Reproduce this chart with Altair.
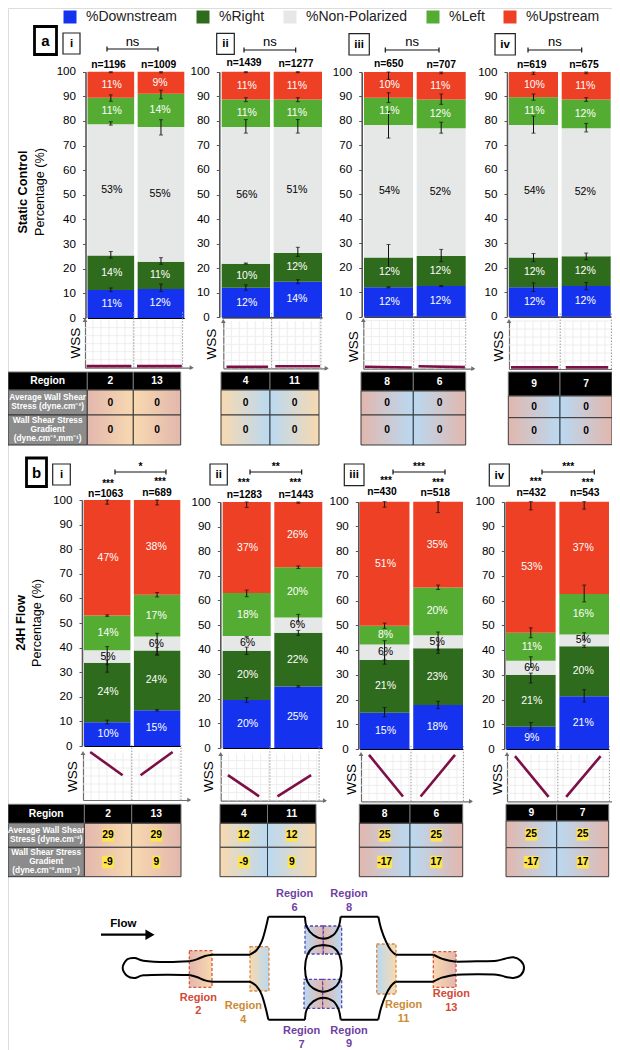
import altair as alt
import pandas as pd

# ---------- values ----------
SERIES = ["%Downstream", "%Right", "%Non-Polarized", "%Left", "%Upstream"]
COLORS = ["#1533ef", "#2f6b1c", "#e6e7e7", "#54ad32", "#ee4024"]
REGIONS = [["2", "13"], ["4", "11"], ["8", "6"], ["9", "7"]]
NUMERALS = ["i", "ii", "iii", "iv"]

A_N = [[1196, 1009], [1439, 1277], [650, 707], [619, 675]]
B_N = [[1063, 689], [1283, 1443], [430, 518], [432, 543]]

# upper edge of the first four segments of each bar (the fifth ends at 100)
A_TOPS = [[[11.4, 25.4, 78.7, 89.4], [11.8, 22.8, 77.5, 91.0]],
          [[12.0, 21.8, 77.5, 88.7], [14.5, 26.2, 77.5, 88.7]],
          [[12.0, 24.2, 78.3, 89.5], [12.5, 24.8, 77.0, 88.8]],
          [[12.0, 24.2, 78.3, 89.7], [12.5, 24.7, 77.0, 88.8]]]
B_TOPS = [[[9.7, 33.8, 38.9, 53.0], [14.5, 38.8, 44.5, 61.5]],
          [[19.5, 39.5, 45.5, 63.0], [25.0, 46.8, 53.0, 73.5]],
          [[14.7, 36.0, 42.3, 49.8], [17.8, 40.7, 46.0, 65.3]],
          [[9.0, 30.0, 35.7, 47.0], [21.3, 41.5, 46.3, 62.7]]]
A_PCT = [[[11, 14, 53, 11, 11], [12, 11, 55, 14, 9]],
         [[12, 10, 56, 11, 11], [14, 12, 51, 11, 11]],
         [[12, 12, 54, 11, 10], [12, 12, 52, 12, 11]],
         [[12, 12, 54, 11, 10], [12, 12, 52, 12, 11]]]
B_PCT = [[[10, 24, 5, 14, 47], [15, 24, 6, 17, 38]],
         [[20, 20, 6, 18, 37], [25, 22, 6, 20, 26]],
         [[15, 21, 6, 8, 51], [18, 23, 5, 20, 35]],
         [[9, 21, 6, 11, 53], [21, 20, 5, 16, 37]]]
# error bars (low, high) at the five segment edges
A_ERR = [[[(10.7, 12.2), (24.3, 27.0), (78.3, 79.7), (88.0, 90.6), (99.6, 100)],
          [(10.8, 13.8), (21.8, 24.5), (74.3, 80.5), (89.0, 92.5), (99.5, 100)]],
         [[(11.0, 13.2), (21.7, 22.1), (75.0, 80.5), (87.8, 89.4), (99.6, 100)],
          [(13.7, 15.3), (24.8, 28.5), (75.0, 80.5), (87.8, 89.4), (99.6, 100)]],
         [[(11.8, 12.2), (18.0, 29.5), (73.0, 83.8), (87.5, 91.5), (97.0, 100)],
          [(12.3, 12.7), (22.5, 27.5), (75.0, 79.5), (86.8, 91.0), (99.3, 100)]],
         [[(10.3, 13.8), (22.5, 25.8), (75.0, 82.0), (88.5, 91.0), (99.0, 100)],
          [(11.0, 14.0), (23.3, 26.0), (75.5, 79.0), (88.0, 89.5), (99.3, 100)]]]
B_ERR = [[[(9.0, 10.5), (30.0, 35.0), (33.0, 40.4), (52.7, 53.3), (98.3, 100)],
          [(14.2, 14.8), (37.0, 40.0), (37.0, 45.8), (60.6, 62.4), (98.0, 100)]],
         [[(18.5, 20.5), (38.0, 41.0), (44.8, 45.3), (61.5, 64.2), (97.8, 100)],
          [(24.7, 25.3), (45.8, 47.8), (51.3, 54.3), (73.0, 74.0), (99.5, 100)]],
         [[(13.0, 16.8), (34.3, 38.0), (36.0, 43.8), (48.8, 50.9), (97.8, 100)],
          [(16.3, 19.3), (38.7, 42.0), (40.0, 47.3), (64.5, 66.3), (95.6, 100)]],
         [[(7.7, 10.7), (26.7, 30.7), (33.0, 37.3), (45.0, 49.0), (96.7, 100)],
          [(19.0, 24.0), (41.0, 42.0), (44.0, 47.0), (59.5, 66.3), (97.0, 100)]]]

# WSS sketches in grid units: region start/end x, then start/end y
A_WSS_X = [[(0.2, 5.8), (6.5, 12.1)], [(0.4, 5.6), (6.5, 12.1)], [(0.2, 6.05), (6.9, 12.7)], [(0.25, 6.15), (7.1, 12.4)]]
A_WSS_Y = [[(0.2, 0.2), (0.2, 0.2)], [(0.2, 0.2), (0.25, 0.25)], [(0.25, 0.15), (0.3, 0.2)], [(0.2, 0.2), (0.2, 0.2)]]
B_WSS_X = [[(0.9, 4.95), (7.2, 11.2)], [(0.9, 4.8), (7.1, 11.3)], [(1.0, 5.25), (7.45, 11.75)], [(1.0, 5.2), (7.4, 11.7)]]
B_WSS_Y = [[(6.0, 3.1), (3.1, 6.0)], [(3.2, 0.55), (0.55, 3.2)], [(5.8, 0.6), (0.6, 5.8)], [(5.65, 0.55), (0.55, 5.65)]]
A_SEP = [(6.1, 12.2), (6.05, 12.2), (6.3, 12.8), (6.4, 12.8)]
B_SEP = [(6.1, 12.25), (6.15, 12.3), (6.25, 12.8), (6.35, 12.8)]

ROW_LABELS = ["Average Wall Shear\nStress (dyne.cm⁻²)", "Wall Shear Stress\nGradient\n(dyne.cm⁻².mm⁻¹)"]
A_AVG = [[0, 0], [0, 0], [0, 0], [0, 0]]
A_GRAD = [[0, 0], [0, 0], [0, 0], [0, 0]]
B_AVG = [[29, 29], [12, 12], [25, 25], [25, 25]]
B_GRAD = [[-9, 9], [-9, 9], [-17, 17], [-17, 17]]
A_SIG = ["ns", "ns", "ns", "ns"]
B_SIG = ["*", "**", "***", "***"]

# ---------- layout (page pixels) ----------
A_AXIS = [85.5, 219.3, 361.7, 507]
A_BARS = [(87.5, 184.3), (221.7, 322), (364, 465.7), (509, 610.7)]
A_Y = [(318, 71.7), (317.3, 71.7), (316.7, 72), (316.7, 72)]
B_AXIS = [82, 220.3, 358.3, 504.3]
B_BARS = [(84, 180.3), (222.7, 322.3), (359.7, 463), (506, 609)]
B_Y = [(746, 500), (748, 502), (749, 501.7), (749, 501.7)]
A_MINI = [(85, 191.7, 367.7, 320), (223.3, 326.7, 368.3, 321), (363.3, 473.3, 368.7, 320), (509, 618.3, 369, 321)]
B_MINI = [(83, 189.3, 800, 753), (220.7, 325, 800.7, 754), (361, 471, 801.3, 754), (507, 617.3, 801.3, 754)]
A_TABLE = [([8, 87.3, 133.3, 180.7], [372, 390, 415, 445]),
           ([221, 270, 319], [372, 390, 415, 445]),
           ([361, 413.3, 465.7], [372, 391, 415, 445]),
           ([508.3, 560, 612], [372, 396, 417.7, 444.7])]
B_TABLE = [([8, 84.4, 131.7, 181], [804.3, 823.3, 847.3, 876.7]),
           ([220, 267.5, 316], [804.3, 823.3, 847.3, 876.7]),
           ([359.3, 410, 462.7], [804.3, 823.3, 847.3, 876.7]),
           ([506, 556.7, 608.7], [804.3, 821, 847.7, 876.7])]
A_N_POS = [[(108.5, 65), (158.7, 65)], [(244, 63), (296, 64)], [(388.7, 63.5), (441.3, 65)], [(531.7, 64.5), (584, 64.5)]]
B_N_POS = [[(105.7, 494), (157, 493)], [(244.3, 495), (296, 495)], [(382, 492), (435.3, 493)], [(531.3, 493), (584.7, 493)]]
B_STAR_POS = [[(108, 483), (160, 481)], [(243.7, 482), (295.3, 482)], [(386, 480), (438, 482)], [(535.7, 481), (587.7, 482)]]
A_BRACKET = [(107, 158, 49), (244, 295.7, 50), (385.3, 439, 50), (528, 581.7, 50)]
B_BRACKET = [(115, 166, 472), (250, 301.7, 472), (393, 445, 472), (542, 594.3, 472)]
A_NUM_BOX = [(63, 80, 33, 54), (216.7, 234.3, 33.3, 54.3), (349, 369.3, 33.7, 55), (495, 515.3, 33.7, 55)]
B_NUM_BOX = [(52.7, 70.3, 464, 485), (210, 227.3, 464, 485), (344.3, 364, 464, 485.7), (489.3, 509.3, 464, 486)]
A_WSS_POS = [(76, 343), (211.7, 344), (354, 346.7), (499, 346)]
B_WSS_POS = [(73.3, 776.7), (209.3, 776.7), (352.3, 779.3), (498.3, 779.3)]

PINK, PEACH, BLUE = "#e2b7ad", "#f8d9b0", "#b9d9f2"
GRAD = {"2": (PINK, PEACH), "13": (PEACH, PINK), "4": (PEACH, BLUE), "11": (BLUE, PEACH),
        "8": (PINK, BLUE), "6": (BLUE, PINK), "9": (PINK, BLUE), "7": (BLUE, PINK)}
FONT = "Liberation Sans"
MAROON = "#7d0e46"
AXIS_GRAY = "#6e6e6e"

# diagram outline, in its own coordinates
TAPER_L = [(268, 274), (290, 268), (315, 258), (336, 254)]
LEFT_BULB = [(268, 274), (200, 276), (130, 272), (105, 264), (82, 268), (68, 293), (82, 318), (105, 324), (130, 316), (200, 314), (268, 315)]
CHANNEL_L = [(336, 254), (450, 254)]
EXPAND_L = [(450, 254), (470, 240), (485, 215), (497, 175), (505, 140)]
ROOF_L = [(505, 140), (615, 140)]
CUSP = [(615, 140), (620, 170), (640, 195), (670, 206), (700, 195), (716, 170), (722, 140)]
ROOF_R = [(722, 140), (835, 140)]
EXPAND_R = [(835, 140), (843, 175), (858, 215), (872, 240), (887, 254)]
CHANNEL_R = [(887, 254), (1000, 254)]
TAPER_R = [(1000, 254), (1025, 266), (1050, 272), (1070, 275)]
RIGHT_BULB = [(1070, 275), (1130, 274), (1190, 272), (1215, 266), (1240, 262), (1262, 272), (1272, 293), (1262, 316), (1240, 324), (1215, 320), (1190, 314), (1130, 313), (1070, 314)]
ISLAND = [(670, 225), (700, 232), (718, 255), (725, 295), (718, 335), (700, 355), (670, 365), (640, 355), (622, 335), (615, 295), (622, 255), (640, 232), (670, 225)]
FLOW_SHAFT = [(3, 194), (140, 194)]
DIAGRAM_BOXES = [("2", 268, 336, 242, 352, "#d9553f"), ("4", 450, 507, 230, 363, "#e0893a"),
                 ("11", 830, 888, 222, 372, "#e0893a"), ("13", 1000, 1068, 245, 352, "#d9553f"),
                 ("6", 615, 670, 168, 252, "#5b45b0"), ("8", 670, 725, 168, 252, "#5b45b0"),
                 ("7", 612, 668, 328, 415, "#5b45b0"), ("9", 668, 725, 328, 415, "#5b45b0")]
RED_T, ORANGE_T, PURPLE_T = "#d24a36", "#cc8a34", "#6f3fa3"
DIAGRAM_LABELS = [("2", 295, 383, RED_T), ("4", 430, 408, ORANGE_T), ("6", 584, 72, PURPLE_T), ("8", 747, 72, PURPLE_T),
                  ("7", 605, 484, PURPLE_T), ("9", 747, 482, PURPLE_T), ("11", 911, 405, ORANGE_T), ("13", 1054, 373, RED_T)]

layers = []
PAGE_X = alt.Scale(domain=[0, 620], range=[-8, 612])
PAGE_Y = alt.Scale(domain=[0, 1050], range=[-8, 1042])
COLOR_SCALE = alt.Scale(domain=SERIES, range=COLORS)


def bar_panel(regions, tops, pct, errs, axis_x, bars, ys, legend):
    rows, err_rows, cap_rows = [], [], []
    for j, region in enumerate(regions):
        edges = [0] + list(tops[j]) + [100]
        for k, name in enumerate(SERIES):
            rows.append(dict(region=region, series=name, y0=edges[k], y1=edges[k + 1],
                             mid=(edges[k] + edges[k + 1]) / 2, label=f"{pct[j][k]}%",
                             tc="black" if k == 2 else "white"))
            lo, hi = errs[j][k]
            err_rows.append(dict(region=region, lo=lo, hi=hi))
            cap_rows += [dict(region=region, v=lo), dict(region=region, v=hi)]
    xs = alt.Scale(domain=regions, range=[bars[0] - 8, bars[1] - 8], paddingInner=0.07, paddingOuter=0)
    yscale = alt.Scale(domain=[0, 100], range=[ys[0] - 8, ys[1] - 8])
    yaxis = alt.Axis(orient="left", offset=-(axis_x - 8), values=list(range(0, 101, 10)), title=None,
                     tickSize=3, tickColor="#555", domainColor="#555", domainWidth=1.6, labelPadding=7,
                     labelFontSize=11.6, labelColor="black", grid=False, labelFont=FONT)
    xaxis = alt.Axis(orient="top", offset=-(ys[0] - 8), labels=False, ticks=False, title=None,
                     domainColor="black", domainWidth=1.2, grid=False)
    leg = None
    if legend:
        leg = alt.Legend(orient="none", legendX=55, legendY=2, direction="horizontal", symbolType="square",
                         symbolSize=169, labelFontSize=14, labelFont=FONT, labelColor="#222", columnPadding=18,
                         title=None, labelOffset=9, padding=0, symbolStrokeWidth=0)
    df = pd.DataFrame(rows)
    layers.append(alt.Chart(df).mark_bar().encode(
        x=alt.X("region:N", scale=xs, axis=xaxis),
        y=alt.Y("y0:Q", scale=yscale, axis=yaxis), y2="y1:Q",
        color=alt.Color("series:N", scale=COLOR_SCALE, legend=leg)))
    layers.append(alt.Chart(pd.DataFrame(err_rows)).mark_rule(color="#111", strokeWidth=1).encode(
        x=alt.X("region:N", scale=xs, axis=None), y=alt.Y("lo:Q", scale=yscale, axis=None), y2="hi:Q"))
    layers.append(alt.Chart(pd.DataFrame(cap_rows)).mark_tick(color="#111", size=4, thickness=1).encode(
        x=alt.X("region:N", scale=xs, axis=None), y=alt.Y("v:Q", scale=yscale, axis=None)))
    layers.append(alt.Chart(df).mark_text(fontSize=10.5, font=FONT).encode(
        x=alt.X("region:N", scale=xs, axis=None), y=alt.Y("mid:Q", scale=yscale, axis=None),
        text="label:N", color=alt.Color("tc:N", scale=None)))


def mini_panel(mini, wx, wy, sep, regions):
    x0, x1, y0, y1 = mini
    xmax, ymax = (x1 - x0) / 8, (y0 - y1) / 8
    mx = alt.Scale(domain=[0, xmax], range=[x0 - 8, x1 - 8])
    my = alt.Scale(domain=[0, ymax], range=[y0 - 8, y1 - 8])
    vg = pd.DataFrame([dict(g=g, a=0, b=ymax) for g in range(1, int(sep[1]) + 1)])
    hg = pd.DataFrame([dict(g=g, a=0, b=sep[1]) for g in range(1, int(ymax) + 1)])
    layers.append(alt.Chart(vg).mark_rule(color="#ededed", strokeWidth=1).encode(
        x=alt.X("g:Q", scale=mx, axis=None), y=alt.Y("a:Q", scale=my, axis=None), y2="b:Q"))
    layers.append(alt.Chart(hg).mark_rule(color="#ededed", strokeWidth=1).encode(
        y=alt.Y("g:Q", scale=my, axis=None), x=alt.X("a:Q", scale=mx, axis=None), x2="b:Q"))
    sp = pd.DataFrame([dict(g=s, a=0, b=ymax + 1) for s in sep])
    layers.append(alt.Chart(sp).mark_rule(color="#9a9a9a", strokeWidth=1, strokeDash=[1.5, 1.5]).encode(
        x=alt.X("g:Q", scale=mx, axis=None), y=alt.Y("a:Q", scale=my, axis=None), y2="b:Q"))
    rows = []
    for j, region in enumerate(regions):
        rows.append(dict(region=region, o=0, x=wx[j][0], y=wy[j][0]))
        rows.append(dict(region=region, o=1, x=wx[j][1], y=wy[j][1]))
    ax_x = alt.Axis(orient="top", offset=-(y0 - 8), labels=False, ticks=False, title=None,
                    domainColor=AXIS_GRAY, domainWidth=1.2, grid=False)
    ax_y = alt.Axis(orient="left", offset=-(x0 - 8), labels=False, ticks=False, title=None,
                    domainColor=AXIS_GRAY, domainWidth=1.2, grid=False)
    layers.append(alt.Chart(pd.DataFrame(rows)).mark_line(color=MAROON, strokeWidth=2.6).encode(
        x=alt.X("x:Q", scale=mx, axis=ax_x), y=alt.Y("y:Q", scale=my, axis=ax_y),
        detail="region:N", order="o:Q"))
    tips = pd.DataFrame([dict(x=xmax, y=0, s="triangle-right"), dict(x=0, y=ymax, s="triangle-up")])
    layers.append(alt.Chart(tips).mark_point(filled=True, size=22, color=AXIS_GRAY, opacity=1).encode(
        x=alt.X("x:Q", scale=mx, axis=None), y=alt.Y("y:Q", scale=my, axis=None),
        shape=alt.Shape("s:N", scale=None)))


def table(edges_x, edges_y, regions, avg, grad, labels, highlight):
    tx = alt.Scale(domain=list(range(len(edges_x))), range=[v - 8 for v in edges_x])
    ty = alt.Scale(domain=list(range(len(edges_y))), range=[v - 8 for v in edges_y])
    has_label = len(edges_x) == 4
    c0 = 1 if has_label else 0
    X = alt.X("c0:Q", scale=tx, axis=None)
    Y = alt.Y("r0:Q", scale=ty, axis=None)
    header = [dict(c0=c0 + j, c1=c0 + j + 1, r0=0, r1=1, t=regions[j]) for j in range(2)]
    if has_label:
        header.insert(0, dict(c0=0, c1=1, r0=0, r1=1, t="Region"))
        label_rows = [dict(c0=0, c1=1, r0=1 + i, r1=2 + i, t=labels[i]) for i in range(2)]
        layers.append(alt.Chart(pd.DataFrame(label_rows)).mark_rect(fill="#8c8c8c", stroke="#333", strokeWidth=1).encode(
            x=X, x2="c1:Q", y=Y, y2="r1:Q"))
        for row in label_rows:
            n = row["t"].count("\n")
            # multi-line text starts at the anchor, so lift it by half of its extra lines
            one = pd.DataFrame([dict(cx=0.5, cy=row["r0"] + 0.5, t=row["t"])])
            layers.append(alt.Chart(one).mark_text(
                color="white", fontWeight="bold", fontSize=8.3, lineBreak="\n", lineHeight=8.8, font=FONT,
                dy=-n * 4.4).encode(
                x=alt.X("cx:Q", scale=tx, axis=None), y=alt.Y("cy:Q", scale=ty, axis=None), text="t:N"))
    hdf = pd.DataFrame(header)
    layers.append(alt.Chart(hdf).mark_rect(fill="black", stroke="#777", strokeWidth=1).encode(
        x=X, x2="c1:Q", y=Y, y2="r1:Q"))
    layers.append(alt.Chart(hdf.assign(cx=hdf.c0 + 0.5, cy=0.5)).mark_text(
        color="white", fontWeight="bold", fontSize=10.3, font=FONT).encode(
        x=alt.X("cx:Q", scale=tx, axis=None), y=alt.Y("cy:Q", scale=ty, axis=None), text="t:N"))
    vals = []
    for j, region in enumerate(regions):
        c = GRAD[region]
        fill = {"gradient": "linear", "x1": 0, "x2": 1, "y1": 0, "y2": 0,
                "stops": [{"offset": 0, "color": c[0]}, {"offset": 1, "color": c[1]}]}
        cells = pd.DataFrame([dict(c0=c0 + j, c1=c0 + j + 1, r0=1 + i, r1=2 + i) for i in range(2)])
        layers.append(alt.Chart(cells).mark_rect(fill=fill, stroke="#3a3a3a", strokeWidth=1).encode(
            x=X, x2="c1:Q", y=Y, y2="r1:Q"))
        vals.append(dict(cx=c0 + j + 0.5, cy=1.5, t=str(avg[j])))
        vals.append(dict(cx=c0 + j + 0.5, cy=2.5, t=str(grad[j])))
    vdf = pd.DataFrame(vals)
    tX = alt.X("cx:Q", scale=tx, axis=None)
    tY = alt.Y("cy:Q", scale=ty, axis=None)
    if highlight:
        for n, w in {1: 8, 2: 12, 3: 15}.items():
            sub = vdf[vdf.t.str.len() == n]
            if len(sub):
                layers.append(alt.Chart(sub).mark_rect(fill="#fde54e", width=w, height=12.5).encode(x=tX, y=tY))
    layers.append(alt.Chart(vdf).mark_text(color="black", fontWeight="bold", fontSize=10.3, font=FONT).encode(
        x=tX, y=tY, text="t:N"))


for p in range(4):
    bar_panel(REGIONS[p], A_TOPS[p], A_PCT[p], A_ERR[p], A_AXIS[p], A_BARS[p], A_Y[p], p == 0)
    bar_panel(REGIONS[p], B_TOPS[p], B_PCT[p], B_ERR[p], B_AXIS[p], B_BARS[p], B_Y[p], False)
    mini_panel(A_MINI[p], A_WSS_X[p], A_WSS_Y[p], A_SEP[p], REGIONS[p])
    mini_panel(B_MINI[p], B_WSS_X[p], B_WSS_Y[p], B_SEP[p], REGIONS[p])
    table(*A_TABLE[p], REGIONS[p], A_AVG[p], A_GRAD[p], ROW_LABELS, False)
    table(*B_TABLE[p], REGIONS[p], B_AVG[p], B_GRAD[p], ROW_LABELS, True)

# ---------- brackets, boxes and free text (page coordinates) ----------
seg = []
for br in A_BRACKET + B_BRACKET:
    a, b, y = br
    seg.append(dict(x=a, x2=b, y=y, y2=y))
    seg.append(dict(x=a, x2=a, y=y - 2.5, y2=y + 2.5))
    seg.append(dict(x=b, x2=b, y=y - 2.5, y2=y + 2.5))
PX = alt.X("x:Q", scale=PAGE_X, axis=None)
PY = alt.Y("y:Q", scale=PAGE_Y, axis=None)
layers.append(alt.Chart(pd.DataFrame(seg)).mark_rule(color="#111", strokeWidth=1.2).encode(
    x=PX, x2="x2:Q", y=PY, y2="y2:Q"))

small = [dict(x=b[0], x2=b[1], y=b[2], y2=b[3]) for b in A_NUM_BOX + B_NUM_BOX]
big = [dict(x=34.5, x2=56.5, y=26.5, y2=54.5), dict(x=26.5, x2=46.5, y=458, y2=486.5)]
layers.append(alt.Chart(pd.DataFrame(small)).mark_rect(fill="white", stroke="#222", strokeWidth=1.2).encode(
    x=PX, x2="x2:Q", y=PY, y2="y2:Q"))
layers.append(alt.Chart(pd.DataFrame(big)).mark_rect(fill="white", stroke="black", strokeWidth=2.8).encode(
    x=PX, x2="x2:Q", y=PY, y2="y2:Q"))

plain, bold, rot_plain, rot_bold = [], [], [], []
for p in range(4):
    for j in range(2):
        bold.append(dict(x=A_N_POS[p][j][0], y=A_N_POS[p][j][1], t=f"n={A_N[p][j]}", s=10.3))
        bold.append(dict(x=B_N_POS[p][j][0], y=B_N_POS[p][j][1], t=f"n={B_N[p][j]}", s=10.3))
        bold.append(dict(x=B_STAR_POS[p][j][0], y=B_STAR_POS[p][j][1] + 1, t="***", s=10))
    plain.append(dict(x=(A_BRACKET[p][0] + A_BRACKET[p][1]) / 2, y=42, t=A_SIG[p], s=13))
    bold.append(dict(x=(B_BRACKET[p][0] + B_BRACKET[p][1]) / 2, y=467, t=B_SIG[p], s=10.3))
    for boxes in (A_NUM_BOX, B_NUM_BOX):
        b = boxes[p]
        bold.append(dict(x=(b[0] + b[1]) / 2, y=(b[2] + b[3]) / 2 + 0.5, t=NUMERALS[p], s=11.5))
    rot_plain.append(dict(x=A_WSS_POS[p][0], y=A_WSS_POS[p][1], t="WSS", s=13.5))
    rot_plain.append(dict(x=B_WSS_POS[p][0], y=B_WSS_POS[p][1], t="WSS", s=13.5))
bold += [dict(x=45.5, y=41, t="a", s=15), dict(x=36.5, y=473, t="b", s=15)]
rot_bold += [dict(x=23, y=192, t="Static Control", s=12.7), dict(x=21, y=623, t="24H Flow", s=12.7)]
rot_plain += [dict(x=40, y=192, t="Percentage (%)", s=12.7), dict(x=36.5, y=623, t="Percentage (%)", s=12.7)]


def text_layer(rows, weight, angle):
    return alt.Chart(pd.DataFrame(rows)).mark_text(fontWeight=weight, angle=angle, color="black", font=FONT).encode(
        x=PX, y=PY, text="t:N", size=alt.Size("s:Q", scale=None))


layers += [text_layer(plain, "normal", 0), text_layer(bold, "bold", 0),
           text_layer(rot_plain, "normal", 270), text_layer(rot_bold, "bold", 270)]

# ---------- diagram ----------
DX = alt.Scale(domain=[0, 1260], range=[92, 512])
DY = alt.Scale(domain=[0, 540], range=[862, 1042])
DXE = alt.X("x:Q", scale=DX, axis=None)
DYE = alt.Y("y:Q", scale=DY, axis=None)
for name, a, b, c, d, col in DIAGRAM_BOXES:
    cc = GRAD[name]
    fill = {"gradient": "linear", "x1": 0, "x2": 1, "y1": 0, "y2": 0,
            "stops": [{"offset": 0, "color": cc[0]}, {"offset": 1, "color": cc[1]}]}
    layers.append(alt.Chart(pd.DataFrame([dict(x=a, x2=b, y=c, y2=d)])).mark_rect(
        fill=fill, stroke=col, strokeWidth=1.3, strokeDash=[3, 2]).encode(x=DXE, x2="x2:Q", y=DYE, y2="y2:Q"))


def mirror(pts):
    return [(x, 589 - y) for x, y in pts]


paths = [LEFT_BULB, RIGHT_BULB, ISLAND]
for piece in (TAPER_L, CHANNEL_L, EXPAND_L, ROOF_L, CUSP, ROOF_R, EXPAND_R, CHANNEL_R, TAPER_R):
    paths += [piece, mirror(piece)]
pts = [dict(path=i, o=k, x=x, y=y) for i, path in enumerate(paths) for k, (x, y) in enumerate(path)]
layers.append(alt.Chart(pd.DataFrame(pts)).mark_line(color="black", strokeWidth=2, interpolate="cardinal").encode(
    x=DXE, y=DYE, detail="path:N", order="o:Q"))
shaft = pd.DataFrame([dict(o=k, x=x, y=y) for k, (x, y) in enumerate(FLOW_SHAFT)])
layers.append(alt.Chart(shaft).mark_line(color="black", strokeWidth=2.4).encode(x=DXE, y=DYE, order="o:Q"))
layers.append(alt.Chart(pd.DataFrame([dict(x=150, y=194)])).mark_point(
    shape="triangle-right", filled=True, size=110, color="black", opacity=1).encode(x=DXE, y=DYE))
layers.append(alt.Chart(pd.DataFrame([dict(x=70, y=162, t="Flow")])).mark_text(
    fontWeight="bold", fontSize=11.5, color="black", font=FONT).encode(x=DXE, y=DYE, text="t:N"))
lab = []
for name, x, y, col in DIAGRAM_LABELS:
    lab.append(dict(x=x, y=y, t="Region", c=col))
    lab.append(dict(x=x, y=y + 41, t=name, c=col))
layers.append(alt.Chart(pd.DataFrame(lab)).mark_text(fontWeight="bold", fontSize=11, font=FONT).encode(
    x=DXE, y=DYE, text="t:N", color=alt.Color("c:N", scale=None)))

chart = alt.layer(*layers).resolve_scale(
    x="independent", y="independent", color="independent", size="independent", shape="independent"
).properties(
    width=604, height=1042, padding=0,
    autosize=alt.AutoSizeParams(type="none", contains="padding"),
    background="white",
).configure_view(stroke=None).configure(font=FONT)

chart.save("out.html", embed_options={"renderer": "svg", "actions": False})
